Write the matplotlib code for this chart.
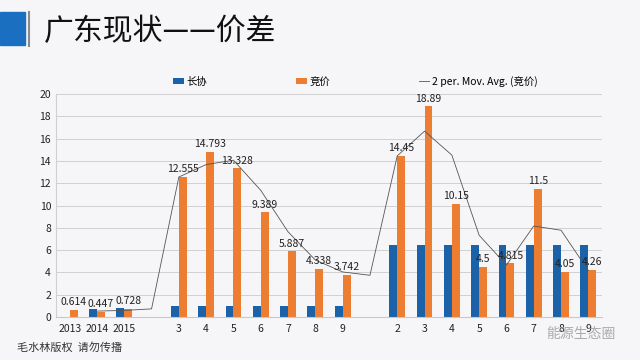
import matplotlib
matplotlib.use("Agg")
import matplotlib.pyplot as plt
import numpy as np
from matplotlib.patches import Rectangle
from matplotlib.lines import Line2D

plt.rcParams["font.family"] = ["Noto Sans CJK SC", "DejaVu Sans"]

# categories (empty string = gap between the groups)
categories = ["2013", "2014", "2015", "", "3", "4", "5", "6", "7", "8", "9",
              "", "2", "3", "4", "5", "6", "7", "8", "9"]
nan = np.nan
long_term = [nan, 0.68, 0.8, nan, 1.0, 1.0, 1.0, 1.0, 1.0, 1.0, 1.0,
             nan, 6.5, 6.5, 6.5, 6.5, 6.5, 6.5, 6.5, 6.5]
bidding = [0.614, 0.447, 0.728, nan, 12.555, 14.793, 13.328, 9.389, 5.887, 4.338, 3.742,
           nan, 14.45, 18.89, 10.15, 4.5, 4.815, 11.5, 4.05, 4.26]
bidding_labels = ["0.614", "0.447", "0.728", "", "12.555", "14.793", "13.328", "9.389",
                  "5.887", "4.338", "3.742", "", "14.45", "18.89", "10.15", "4.5",
                  "4.815", "11.5", "4.05", "4.26"]
# 2 period moving average of 竞价 as shown in the chart
mov_avg = [nan, 0.53, 0.59, 0.728, 12.555, 13.67, 14.06, 11.36, 7.64, 5.11, 4.04,
           3.742, 14.45, 16.67, 14.52, 7.33, 4.66, 8.16, 7.78, 4.155]

BLUE = "#1b62a8"
ORANGE = "#ed7d31"

fig = plt.figure(figsize=(6.4, 3.6), dpi=100)
fig.patch.set_facecolor("#f6f6f8")

# header decoration
fig.patches.append(Rectangle((0, 1 - 45 / 360), 25 / 640, 33 / 360,
                             transform=fig.transFigure, color="#1a6fc0"))
fig.add_artist(Line2D([28.5 / 640, 28.5 / 640], [1 - 46 / 360, 1 - 12 / 360],
                      transform=fig.transFigure, color="#8a8a8a", lw=1.5))
fig.text(44 / 640, 1 - 31 / 360, "广东现状——价差", fontsize=21.5, va="center",
         ha="left", color="#111111")

ax = fig.add_axes([56 / 640, 43 / 360, 546 / 640, 223 / 360])
ax.set_facecolor("none")

x = np.arange(len(categories))
w = 0.29
b1 = ax.bar(x - w / 2, long_term, width=w, color=BLUE, label="长协", zorder=2)
b2 = ax.bar(x + w / 2, bidding, width=w, color=ORANGE, label="竞价", zorder=2)
ln, = ax.plot(x, mov_avg, color="#555555", lw=0.6, label="2 per. Mov. Avg. (竞价)", zorder=3)

for xi, v, s in zip(x, bidding, bidding_labels):
    if s:
        ax.text(xi + w / 2, v + 0.25, s, ha="center", va="bottom", fontsize=7.5,
                color="#222222", zorder=4)

ax.set_xlim(-0.5, len(categories) - 0.5)
ax.set_ylim(0, 20)
ax.set_yticks(np.arange(0, 21, 2))
ax.set_xticks(x)
ax.set_xticklabels(categories)
ax.tick_params(axis="both", length=0, labelsize=7.5, colors="#222222")
ax.tick_params(axis="x", pad=5)
ax.grid(axis="y", color="#d0d0d0", lw=0.7, zorder=0)
for side in ["top", "right"]:
    ax.spines[side].set_visible(False)
ax.spines["left"].set_color("#d0d0d0")
ax.spines["bottom"].set_color("#c8c8c8")

ax.legend(handles=[b1, b2, ln], loc="lower left", bbox_to_anchor=(110 / 546, 1.0),
          ncol=3, frameon=False, fontsize=7.5, handlelength=1.0, handleheight=0.5,
          handletextpad=0.3, columnspacing=8.5, borderaxespad=0.3)

fig.text(17 / 640, 1 - 348 / 360, "毛水林版权  请勿传播", fontsize=8, va="center",
         color="#333333")
fig.text(546 / 640, 1 - 334 / 360, "能源生态圈", fontsize=10, va="center",
         color="#999999", alpha=0.8)

fig.savefig("out.png", dpi=100, facecolor=fig.get_facecolor())
